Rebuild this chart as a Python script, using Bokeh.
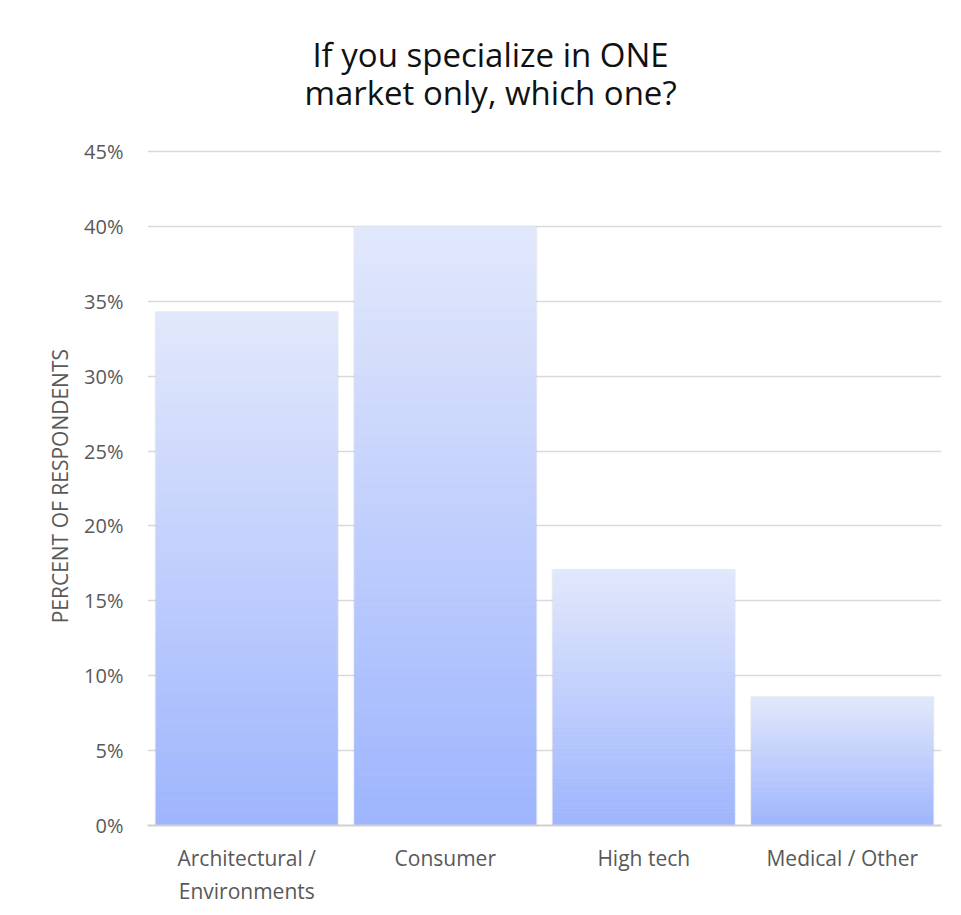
from bokeh.plotting import figure
from bokeh.models import FactorRange, Range1d, FixedTicker, PrintfTickFormatter, Label
from bokeh.embed import file_html
from bokeh.resources import INLINE

categories = ["Architectural /\nEnvironments", "Consumer", "High tech", "Medical / Other"]
values = [34.3, 40.0, 17.1, 8.6]
y_ticks = [0, 5, 10, 15, 20, 25, 30, 35, 40, 45]
title_lines = ["If you specialize in ONE", "market only, which one?"]
y_label = "PERCENT OF RESPONDENTS"

TOP_RGB = (226, 232, 252)
BOT_RGB = (158, 181, 253)
N = 60

# frame spans the title area too; 45% sits 141px below the frame top
Y_MAX = 815 * 45 / 674

p = figure(width=961, height=915, x_range=FactorRange(*categories, range_padding=0),
           y_range=Range1d(0, Y_MAX), output_backend="svg", toolbar_location=None,
           min_border_left=147, min_border_right=20, min_border_top=10, min_border_bottom=90)

# title as two centered lines
for txt, yv in zip(title_lines, [51.5, 48.95]):
    p.add_layout(Label(x=1.728, y=yv, text=txt,
                       text_align="center", text_baseline="middle",
                       text_font="Open Sans", text_font_size="33px", text_color="#111111"))

# shadow
p.vbar(x=categories, top=values, width=0.93, fill_color="#7f7f7f", fill_alpha=0.06, line_color=None)
p.vbar(x=categories, top=values, width=0.922, fill_color="#7f7f7f", fill_alpha=0.10, line_color=None)

xs, bots, tops, cols = [], [], [], []
for c, v in zip(categories, values):
    for k in range(N):
        t = (k + 0.5) / N
        r = round(BOT_RGB[0] + (TOP_RGB[0] - BOT_RGB[0]) * t)
        g = round(BOT_RGB[1] + (TOP_RGB[1] - BOT_RGB[1]) * t)
        b = round(BOT_RGB[2] + (TOP_RGB[2] - BOT_RGB[2]) * t)
        xs.append(c)
        bots.append(v * k / N)
        tops.append(v * (k + 1) / N)
        cols.append("#%02x%02x%02x" % (r, g, b))
p.vbar(x=xs, bottom=bots, top=tops, width=0.915, fill_color=cols, line_color=cols, line_width=0.6)

p.outline_line_color = None
p.background_fill_color = "white"
p.border_fill_color = "white"

p.xgrid.grid_line_color = None
p.ygrid.grid_line_color = "#d9d9d9"
p.ygrid.grid_line_width = 1.5
p.yaxis.ticker = FixedTicker(ticks=y_ticks)
p.yaxis.bounds = (0, 45)
p.yaxis.formatter = PrintfTickFormatter(format="%d%%")
p.yaxis.axis_line_color = None
p.yaxis.major_tick_line_color = None
p.yaxis.minor_tick_line_color = None
p.yaxis.major_label_standoff = 18
p.yaxis.major_label_text_font = "Open Sans"
p.yaxis.major_label_text_font_size = "20px"
p.yaxis.major_label_text_color = "#595959"
# trailing no-break spaces centre the visible label on the 0-45% span rather than the whole frame
p.yaxis.axis_label = y_label + "\u00a0" * 25
p.yaxis.axis_label_text_font = "Open Sans"
p.yaxis.axis_label_text_font_size = "21px"
p.yaxis.axis_label_text_font_style = "normal"
p.yaxis.axis_label_text_color = "#595959"
p.yaxis.axis_label_standoff = 7

p.xaxis.axis_line_color = "#d0d0d0"
p.xaxis.axis_line_width = 2
p.xaxis.major_tick_line_color = None
p.xaxis.minor_tick_line_color = None
p.xaxis.major_label_standoff = 12
p.xaxis.major_label_text_font = "Open Sans"
p.xaxis.major_label_text_font_size = "21px"
p.xaxis.major_label_text_color = "#595959"

open("out.html", "w").write(file_html(p, INLINE))
